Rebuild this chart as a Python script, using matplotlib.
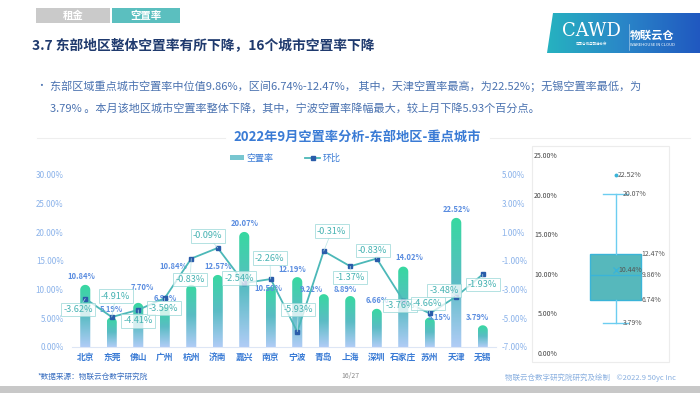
import numpy as np
import matplotlib
matplotlib.use("Agg")
import matplotlib.pyplot as plt
from matplotlib.path import Path
from matplotlib.patches import PathPatch, Rectangle, Polygon, Patch
from matplotlib.lines import Line2D
from matplotlib.colors import LinearSegmentedColormap
from matplotlib.ticker import FuncFormatter

plt.rcParams["font.family"] = ["Noto Sans CJK SC", "DejaVu Sans"]

# ── data ──────────────────────────────────────────────────────────────────────
cities = ["北京", "东莞", "佛山", "广州", "杭州", "济南", "嘉兴", "南京",
          "宁波", "青岛", "上海", "深圳", "石家庄", "苏州", "天津", "无锡"]
vacancy = [10.84, 5.19, 7.70, 6.98, 10.84, 12.57, 20.07, 10.50,
           12.19, 9.22, 8.89, 6.66, 14.02, 5.15, 22.52, 3.79]
mom = [-3.62, -4.91, -4.41, -3.59, -0.83, -0.09, -2.54, -2.26,
       -5.93, -0.31, -1.37, -0.83, -3.76, -4.66, -3.48, -1.93]

box_low, box_q1, box_med, box_q3, box_high = 3.79, 6.74, 9.86, 12.47, 20.07
box_mean = 10.44
box_outliers = [22.52]

# label offsets in pixels (dx, dy up)
bar_label_off = [(-4, 8), (0, 8), (4, 15), (0, 8), (-18, 18), (0, 8), (0, 8), (-2, -2),
                 (-5, 8), (-12, 5), (-5, 7), (0, 8), (6, 9), (10, 0), (0, 8), (-5, 8)]
line_label_off = [(-7, -11), (4, 21), (0, -11), (-1, -10), (-1, -21), (-10, 12), (-5, 5), (-1, 21),
                  (1, 22), (8, 20), (0, -11), (-4, 8), (-3, -5), (-2, 10), (-12, 6), (0, -10)]

W, H = 700, 393
BLUE = "#3a7bd5"
LIGHT_BLUE = "#8ab2ea"
TEAL = "#4cb8b8"

fig = plt.figure(figsize=(7, 3.93), dpi=100)
fig.patch.set_facecolor("white")


def fx(x):
    return x / W


def fy(y):
    return 1 - y / H


# ── header ────────────────────────────────────────────────────────────────────
fig.patches.append(Rectangle((fx(36), fy(23)), fx(74), 15 / H, transform=fig.transFigure,
                             facecolor="#cacaca", edgecolor="none"))
fig.patches.append(Rectangle((fx(112), fy(23)), fx(68), 15 / H, transform=fig.transFigure,
                             facecolor="#5bbfbf", edgecolor="none"))
fig.text(fx(73), fy(15.5), "租金", color="white", fontsize=7.5, fontweight="bold", ha="center", va="center")
fig.text(fx(146), fy(15.5), "空置率", color="white", fontsize=7.5, fontweight="bold", ha="center", va="center")

fig.text(fx(32), fy(45), "3.7 东部地区整体空置率有所下降，16个城市空置率下降",
         color="#1f3a6e", fontsize=9.9, fontweight="bold", va="center")

# logo block
lax = fig.add_axes([0, 0, 1, 1], zorder=-1)
lax.set_xlim(0, W)
lax.set_ylim(H, 0)
lax.axis("off")
logo_cmap = LinearSegmentedColormap.from_list("logo", ["#26b2c0", "#2a86c8", "#2058c0"])
poly = Polygon([(547, 53), (553, 13), (700, 13), (700, 53)], closed=True,
               facecolor="none", edgecolor="none", transform=lax.transData)
lax.add_patch(poly)
gim = lax.imshow(np.linspace(0, 1, 256).reshape(1, -1), extent=(547, 700, 53, 13),
                 cmap=logo_cmap, aspect="auto", zorder=1)
gim.set_clip_path(poly)
lax.set_xlim(0, W)
lax.set_ylim(H, 0)
lax.text(591, 31, "CAWD", color="white", fontsize=13, family="DejaVu Serif",
         ha="center", va="center", zorder=3)
lax.text(591, 44, "中国仓储与配送协会", color="white", fontsize=2.5, ha="center", va="center", zorder=3)
lax.plot([629, 629], [24, 50], color="white", lw=0.4, alpha=0.7, zorder=3)
lax.text(652, 35, "物联云仓", color="white", fontsize=8, fontweight="bold",
         ha="center", va="center", zorder=3)
lax.text(652, 45, "WAREHOUSE IN CLOUD", color="white", fontsize=3, ha="center", va="center", zorder=3)

# bullet text
fig.text(fx(36), fy(86), "•", color="#4a72b0", fontsize=7, va="center")
fig.text(fx(50), fy(86),
         "东部区域重点城市空置率中位值9.86%，区间6.74%-12.47%， 其中，天津空置率最高，为22.52%；无锡空置率最低，为",
         color="#4a72b0", fontsize=8.0, va="center")
fig.text(fx(50), fy(108),
         "3.79% 。本月该地区城市空置率整体下降，其中，宁波空置率降幅最大，较上月下降5.93个百分点。",
         color="#4a72b0", fontsize=8.0, va="center")

# chart title
fig.text(fx(357), fy(137), "2022年9月空置率分析-东部地区-重点城市", color=BLUE,
         fontsize=9.5, fontweight="bold", ha="center", va="center")
lax.plot([37, 225], [138, 138], color="#eeeeee", lw=0.8)
lax.plot([490, 690], [138, 138], color="#eeeeee", lw=0.8)

# ── main chart ────────────────────────────────────────────────────────────────
ax = fig.add_axes([fx(72), fy(347), (496 - 72) / W, (347 - 175) / H])
n = len(cities)
x = np.arange(n)
bw = 0.38
ylim_max = 30
ax.set_xlim(-0.5, n - 0.5)
ax.set_ylim(0, ylim_max)

bar_cmap = LinearSegmentedColormap.from_list("bar", ["#b0ccf6", "#5abcc4", "#37d9a0"])
grad = np.linspace(0, 1, 256).reshape(-1, 1)
px_per_y = (347 - 175) / ylim_max
ry = 5 / px_per_y
t = np.linspace(0, np.pi, 20)
for i, v in enumerate(vacancy):
    x0, x1 = i - bw / 2, i + bw / 2
    verts = [(x0, 0), (x1, 0)]
    verts += [(i + bw / 2 * np.cos(a), v - ry + ry * np.sin(a)) for a in t]
    verts += [(x0, 0)]
    codes = [Path.MOVETO] + [Path.LINETO] * (len(verts) - 2) + [Path.CLOSEPOLY]
    patch = PathPatch(Path(verts, codes), facecolor="none", edgecolor="none")
    ax.add_patch(patch)
    im = ax.imshow(grad, extent=(x0, x1, 0, v), origin="lower", cmap=bar_cmap,
                   aspect="auto", zorder=2)
    im.set_clip_path(patch)
    dx, dy = bar_label_off[i]
    ax.annotate(f"{v:.2f}%", (i, v), xytext=(dx, dy), textcoords="offset pixels",
                ha="center", va="center", fontsize=5.5, color="#5b8de0", fontweight="bold",
                zorder=4)

ax.set_xlim(-0.5, n - 0.5)
ax.set_ylim(0, ylim_max)
ax.set_yticks(np.arange(0, 31, 5))
ax.yaxis.set_major_formatter(FuncFormatter(lambda v, _: f"{v:.2f}%"))
ax.set_xticks(x)
ax.set_xticklabels(cities, fontsize=6.3, fontweight="bold", color=BLUE)
ax.tick_params(axis="y", length=0, labelsize=5.8, labelcolor=LIGHT_BLUE, pad=6)
ax.tick_params(axis="x", length=0, pad=4)
for s in ["top", "left", "right"]:
    ax.spines[s].set_visible(False)
ax.spines["bottom"].set_color("#dde6f5")

ax2 = ax.twinx()
ax2.set_ylim(-7, 5)
ax2.set_yticks(np.arange(-7, 6, 2))
ax2.yaxis.set_major_formatter(FuncFormatter(lambda v, _: f"{v:.2f}%"))
ax2.tick_params(axis="y", length=0, labelsize=5.8, labelcolor=LIGHT_BLUE, pad=4)
for s in ax2.spines.values():
    s.set_visible(False)
ax2.plot(x, mom, color=TEAL, lw=1.3, marker="s", markersize=2.6,
         markerfacecolor="#2a5caa", markeredgecolor="#2a5caa", zorder=3)
for i, v in enumerate(mom):
    dx, dy = line_label_off[i]
    ax2.annotate(f"{v:.2f}%", (i, v), xytext=(dx, dy), textcoords="offset pixels",
                 ha="center", va="center", fontsize=6.6, color="#47b3b3",
                 bbox=dict(boxstyle="square,pad=0.25", facecolor="white", alpha=0.75,
                           edgecolor="#9ad8d8", lw=0.7),
                 arrowprops=dict(arrowstyle="-", color="#b8e4e4", lw=0.5, shrinkA=0, shrinkB=0),
                 zorder=5)

# legend
handles = [Patch(facecolor="#78c6d0", edgecolor="none", label="空置率"),
           Line2D([], [], color=TEAL, lw=1.3, marker="s", markersize=2.6,
                  markerfacecolor="#2a5caa", markeredgecolor="#2a5caa", label="环比")]
fig.legend(handles=handles, loc="center", bbox_to_anchor=(fx(285), fy(158)), ncol=2,
           frameon=False, fontsize=6.5, labelcolor=BLUE, columnspacing=3.5,
           handlelength=1.6, handleheight=0.5, handletextpad=0.3)

# ── box plot panel ────────────────────────────────────────────────────────────
fig.patches.append(Rectangle((fx(532), fy(362)), (669 - 532) / W, (362 - 146) / H,
                             transform=fig.transFigure, facecolor="none",
                             edgecolor="#ececec", lw=0.8))
bax = fig.add_axes([fx(562), fy(353), (669 - 562) / W, (353 - 155) / H])
stats = [dict(med=box_med, q1=box_q1, q3=box_q3, whislo=box_low, whishi=box_high,
              mean=box_mean, fliers=box_outliers)]
bax.bxp(stats, positions=[1], widths=0.97, patch_artist=True, showmeans=True,
        boxprops=dict(facecolor="#56b8bc", edgecolor="#3ab4d8", lw=1),
        whiskerprops=dict(color="#6ccdf0", lw=1), capprops=dict(color="#6ccdf0", lw=1),
        medianprops=dict(color="#3ab4d8", lw=1),
        meanprops=dict(marker="x", markeredgecolor="#3ab4d8", markersize=4),
        flierprops=dict(marker="o", markersize=1.8, markerfacecolor="#3ab4d8",
                        markeredgecolor="#3ab4d8"))
bax.set_xlim(0, 2)
bax.set_ylim(0, 25)
bax.set_xticks([])
bax.set_yticks(np.arange(0, 26, 5))
bax.yaxis.set_major_formatter(FuncFormatter(lambda v, _: f"{v:.2f}%"))
bax.tick_params(axis="y", length=0, labelsize=5, labelcolor="#444444", pad=3)
for s in bax.spines.values():
    s.set_visible(False)
lab_kw = dict(fontsize=5, color="#555555", va="center", ha="left")
bax.text(1.04, box_outliers[0], f"{box_outliers[0]:.2f}%", **lab_kw)
bax.text(1.14, box_high, f"{box_high:.2f}%", **lab_kw)
bax.text(1.49, box_q3, f"{box_q3:.2f}%", **lab_kw)
bax.text(1.05, box_mean, f"{box_mean:.2f}%", **lab_kw)
bax.text(1.49, box_med, f"{box_med:.2f}%", **lab_kw)
bax.text(1.49, box_q1, f"{box_q1:.2f}%", **lab_kw)
bax.text(1.14, box_low, f"{box_low:.2f}%", **lab_kw)

# ── footer ────────────────────────────────────────────────────────────────────
fig.text(fx(37), fy(377), "*数据来源：物联云仓数字研究院", color="#3a6fc0", fontsize=5.5,
         style="italic", va="center")
fig.text(fx(350), fy(376), "16/27", color="#888888", fontsize=5, ha="center", va="center")
fig.text(fx(505), fy(378), "物联云仓数字研究院研究及绘制    ©2022.9 50yc Inc",
         color="#8ab0e0", fontsize=5.4, va="center")
fig.patches.append(Rectangle((0, 0), 1, 7 / H, transform=fig.transFigure,
                             facecolor="#c8c8c8", edgecolor="none"))

fig.savefig("out.png", dpi=100, facecolor="white")
